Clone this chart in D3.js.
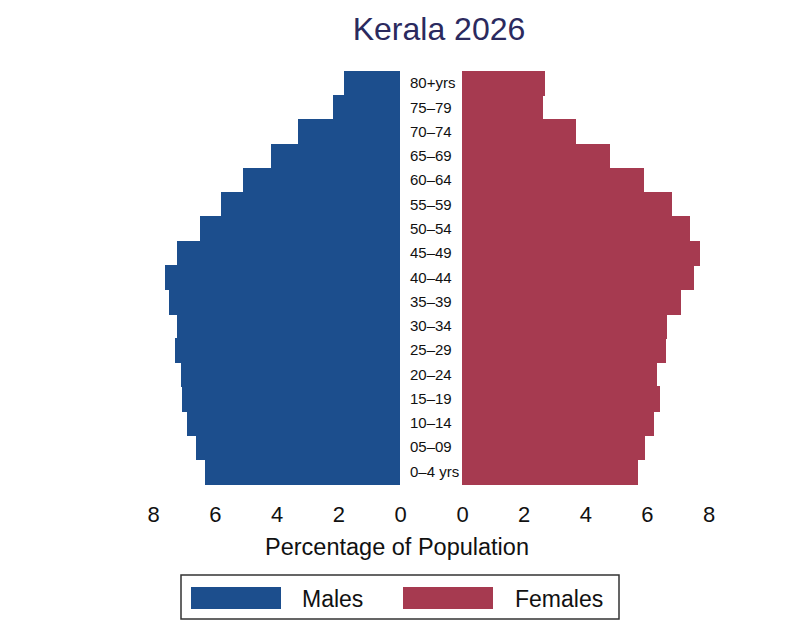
<!DOCTYPE html>
<html>

<head>
  <meta charset="utf-8">
  <title>Kerala 2026</title>
  <style>
    * {
      padding: 0;
      margin: 0;
    }

    body {
      background: #fff;
      font-family: "Liberation Sans", Arial, Helvetica, sans-serif;
    }

    .axis text {
      font-size: 22px;
      fill: #111;
    }

    .bar {
      shape-rendering: crispEdges;
    }
  </style>
</head>

<body>
  <svg id="svg"></svg>
  <script src="https://cdnjs.cloudflare.com/ajax/libs/d3/7.8.5/d3.min.js"></script>
  <script>
    // age groups, youngest first (bottom of the pyramid)
    const ageGroups = ['0–4 yrs', '05–09', '10–14', '15–19', '20–24', '25–29', '30–34', '35–39',
      '40–44', '45–49', '50–54', '55–59', '60–64', '65–69', '70–74', '75–79', '80+yrs'];
    const males = [6.31, 6.60, 6.90, 7.07, 7.10, 7.30, 7.23, 7.49, 7.60, 7.21, 6.47, 5.79, 5.09, 4.18, 3.29, 2.18, 1.81];
    const females = [5.71, 5.93, 6.22, 6.42, 6.33, 6.62, 6.65, 7.12, 7.52, 7.74, 7.41, 6.82, 5.92, 4.81, 3.70, 2.62, 2.70];
    const tickValues = [0, 2, 4, 6, 8];
    const seriesNames = ['Males', 'Females'];

    const dim = { width: 798, height: 621, top: 70.7, bottom: 483.5 };
    const colors = { Males: '#1c4e8d', Females: '#a63a50' };

    const svg = d3.select('#svg').attr('width', dim.width).attr('height', dim.height);

    const xMale = d3.scaleLinear().domain([8, 0]).range([153, 400]);
    const xFemale = d3.scaleLinear().domain([0, 8]).range([462, 708.5]);
    const y = d3.scaleBand().domain(ageGroups.slice().reverse()).range([dim.top, dim.bottom]).padding(0);

    // title
    svg.append('text')
      .attr('x', 439)
      .attr('y', 40)
      .attr('text-anchor', 'middle')
      .style('font-size', '32px')
      .style('fill', '#2b2a5e')
      .text('Kerala 2026');

    // bars (slight overlap so rows don't leave seams)
    svg.append('g')
      .selectAll('rect')
      .data(ageGroups.map((a, i) => ({ age: a, v: males[i] })))
      .enter()
      .append('rect')
      .attr('class', 'bar')
      .attr('x', d => xMale(d.v))
      .attr('y', d => y(d.age))
      .attr('width', d => xMale(0) - xMale(d.v))
      .attr('height', y.bandwidth() + 1)
      .style('fill', colors.Males);

    svg.append('g')
      .selectAll('rect')
      .data(ageGroups.map((a, i) => ({ age: a, v: females[i] })))
      .enter()
      .append('rect')
      .attr('class', 'bar')
      .attr('x', xFemale(0))
      .attr('y', d => y(d.age))
      .attr('width', d => xFemale(d.v) - xFemale(0))
      .attr('height', y.bandwidth() + 1)
      .style('fill', colors.Females);

    // age labels in the middle gap
    svg.append('g')
      .selectAll('text')
      .data(ageGroups)
      .enter()
      .append('text')
      .attr('x', 410)
      .attr('y', d => y(d) + y.bandwidth() / 2)
      .attr('dy', '0.36em')
      .style('font-size', '15px')
      .style('fill', '#111')
      .text(d => d);

    // x axes
    const axisY = 483.5;
    [xMale, xFemale].forEach(sc => {
      const g = svg.append('g')
        .attr('class', 'axis')
        .attr('transform', `translate(0, ${axisY})`)
        .call(d3.axisBottom(sc).tickValues(tickValues).tickSize(0).tickPadding(22.5).tickFormat(d3.format('d')));
      g.select('.domain').remove();
      g.selectAll('text').style('font-family', 'inherit');
    });

    svg.append('text')
      .attr('x', 397)
      .attr('y', 555)
      .attr('text-anchor', 'middle')
      .style('font-size', '23.5px')
      .style('fill', '#111')
      .text('Percentage of Population');

    // legend
    const legend = svg.append('g').attr('id', 'legend');
    legend.append('rect')
      .attr('x', 181)
      .attr('y', 575)
      .attr('width', 438)
      .attr('height', 44)
      .style('fill', '#fff')
      .style('stroke', '#333')
      .style('stroke-width', 1.5);

    const legendPos = { Males: { sw: 191, tx: 302 }, Females: { sw: 403, tx: 515 } };
    seriesNames.forEach(name => {
      legend.append('rect')
        .attr('x', legendPos[name].sw)
        .attr('y', 587)
        .attr('width', 90)
        .attr('height', 22)
        .style('fill', colors[name]);
      legend.append('text')
        .attr('x', legendPos[name].tx)
        .attr('y', 606.5)
        .style('font-size', '23px')
        .style('fill', '#111')
        .text(name);
    });
  </script>

</body>

</html>
